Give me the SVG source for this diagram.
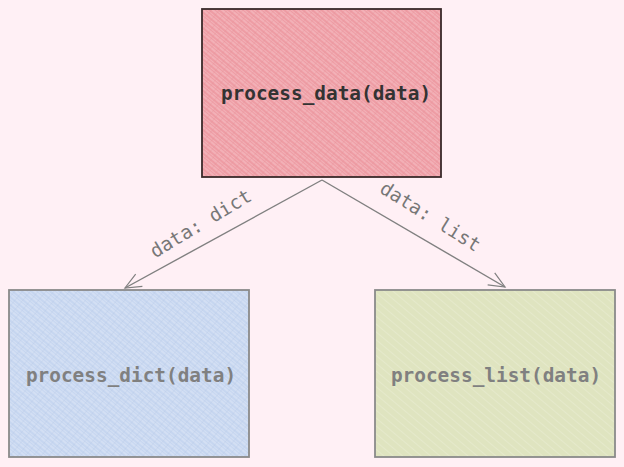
<svg xmlns="http://www.w3.org/2000/svg" width="624" height="467" viewBox="0 0 624 467">
<defs>
<pattern id="hRed" width="6" height="6" patternUnits="userSpaceOnUse" patternTransform="rotate(40)">
<rect width="6" height="6" fill="#ee9ca4"/>
<path d="M0 0H6M0 3H6" stroke="#f9cfd4" stroke-width="0.8"/>
<path d="M0 0V6" stroke="#e48e97" stroke-width="0.6"/>
</pattern>
<pattern id="hBlue" width="6" height="6" patternUnits="userSpaceOnUse" patternTransform="rotate(40)">
<rect width="6" height="6" fill="#c6d6f0"/>
<path d="M0 0H6M0 3H6" stroke="#e6edf9" stroke-width="0.8"/>
<path d="M0 0V6" stroke="#b4c4e2" stroke-width="0.6"/>
</pattern>
<pattern id="hGreen" width="6" height="6" patternUnits="userSpaceOnUse" patternTransform="rotate(40)">
<rect width="6" height="6" fill="#dfe4c0"/>
<path d="M0 0H6" stroke="#eef0dc" stroke-width="0.8"/>
</pattern>
<marker id="arr" viewBox="0 0 20 20" refX="18" refY="10" markerWidth="20" markerHeight="20" markerUnits="userSpaceOnUse" orient="auto">
<path d="M2 3L18 10L2 17" fill="none" stroke="#808080" stroke-width="1.2"/>
</marker>
<style>
.lbl{font-family:"DejaVu Sans Mono","Liberation Mono",monospace;font-size:19.4px;font-weight:bold;text-anchor:middle}
.elbl{font-family:"DejaVu Sans Mono","Liberation Mono",monospace;font-size:19px;fill:#777;text-anchor:middle}
.edge{fill:none;stroke:#808080;stroke-width:1.4}
</style>
</defs>
<rect width="624" height="467" fill="#fff0f5"/>
<g id="process_data">
<rect x="202" y="9" width="239" height="168" fill="url(#hRed)" stroke="#3a2a2a" stroke-width="1.8"/>
<text class="lbl" x="326" y="100" fill="#333">process_data(data)</text>
</g>
<g id="process_dict">
<rect x="9" y="290" width="240" height="167" fill="url(#hBlue)" stroke="#8a8a8a" stroke-width="1.8"/>
<text class="lbl" x="131" y="382" fill="#808080">process_dict(data)</text>
</g>
<g id="process_list">
<rect x="375" y="290" width="240" height="167" fill="url(#hGreen)" stroke="#8a8a8a" stroke-width="1.8"/>
<text class="lbl" x="496" y="382" fill="#808080">process_list(data)</text>
</g>
<g id="connectors">
<path class="edge" d="M322 180L125 288" marker-end="url(#arr)"/>
<path class="edge" d="M322 180L505 287" marker-end="url(#arr)"/>
<text class="elbl" x="204" y="229" transform="rotate(-31 204 229)">data: dict</text>
<text class="elbl" x="427" y="222" transform="rotate(32 427 222)">data: list</text>
</g>
</svg>
